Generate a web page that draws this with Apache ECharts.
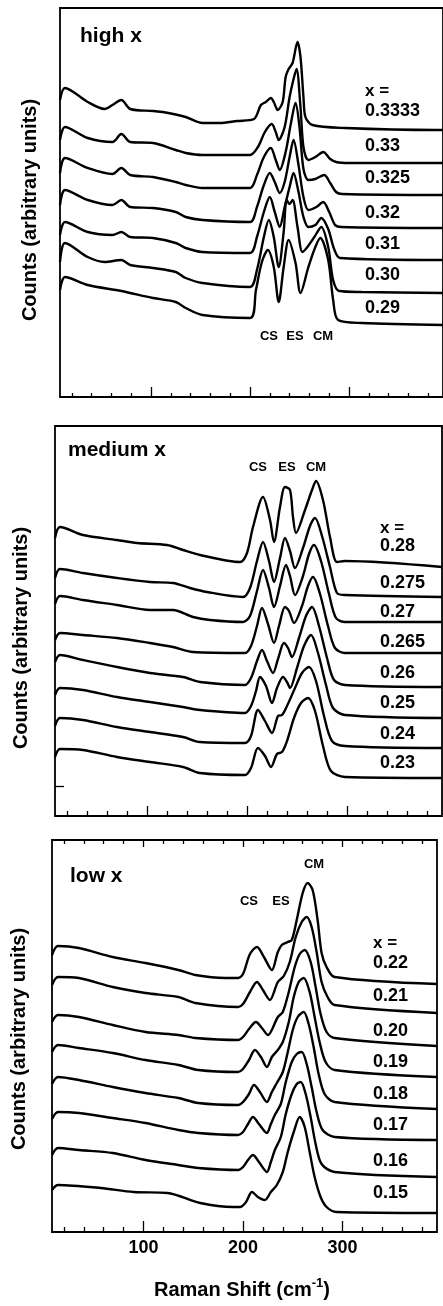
<!DOCTYPE html>
<html>
<head>
<meta charset="utf-8">
<script src="https://cdn.jsdelivr.net/npm/echarts@6/dist/echarts.min.js"></script>
<style>
html,body{margin:0;padding:0;background:#fff;}
#chart{width:443px;height:1306px;}
</style>
</head>
<body>
<div id="chart"></div>
<script>
// ---------------- DATA (Raman shift cm^-1, counts in arbitrary units) ----------------
// high x panel
const hx3333 = [[8,297],[13,309],[36,295],[53,288],[61,292],[70,297],[79,288],[102,286],[112,285],[135,280],[152,274],[169,274],[187,276],[204,278],[211,292],[216,295],[221,299],[224,295],[228,287],[233,295],[236,320],[239,328],[243,334],[248,355],[251,340],[254,300],[256,280],[263,272],[296,269],[388,267],[395,267]];
const hx33 = [[8,257],[13,270],[36,259],[61,255],[70,263],[79,255],[102,254],[125,247],[135,244],[152,242],[200,242],[208,250],[215,265],[222,273],[226,265],[229,257],[235,270],[240,300],[244,318],[247,328],[251,290],[254,250],[259,237],[266,240],[274,245],[281,238],[287,235],[300,234],[395,234]];
const hx325 = [[8,224],[13,239],[36,229],[61,223],[70,229],[79,222],[102,220],[125,215],[135,212],[152,209],[200,209],[207,222],[214,240],[221,249],[226,237],[230,227],[236,245],[241,272],[246,294],[250,270],[254,228],[259,217],[266,218],[275,222],[281,214],[287,205],[293,203],[395,202]];
const hx32 = [[8,192],[13,207],[36,197],[61,192],[70,197],[79,190],[102,189],[125,185],[135,180],[152,177],[200,175],[207,190],[214,212],[220,224],[225,215],[230,204],[235,215],[240,240],[244,257],[249,232],[254,200],[259,187],[267,190],[274,195],[280,185],[286,172],[292,170],[395,169]];
const hx31 = [[8,162],[13,175],[36,165],[61,162],[70,165],[79,160],[102,159],[125,154],[135,149],[152,145],[200,144],[207,160],[214,185],[220,200],[225,185],[230,170],[235,190],[240,210],[244,224],[249,205],[254,180],[259,170],[266,172],[272,179],[279,168],[285,148],[291,139],[395,137]];
const hx30 = [[8,135],[13,154],[36,140],[53,135],[70,137],[79,132],[102,129],[125,125],[135,119],[152,114],[200,110],[207,127],[214,160],[219,177],[224,160],[229,130],[234,165],[237,197],[240,193],[243,197],[248,170],[253,145],[258,150],[265,160],[272,170],[279,150],[284,117],[290,106],[313,105],[395,104]];
const hx29 = [[8,107],[13,120],[36,112],[70,106],[102,99],[125,95],[135,89],[152,82],[200,79],[206,107],[212,135],[218,147],[224,130],[229,95],[234,130],[239,157],[246,134],[251,104],[259,130],[266,150],[271,159],[279,137],[284,97],[289,77],[313,74],[395,72]];
const highLabels = ['0.3333','0.33','0.325','0.32','0.31','0.30','0.29'];

// medium x panel
const mx28 = [[8,278],[13,289],[36,281],[70,276],[90,273],[120,271],[136,266],[153,261],[193,254],[200,263],[206,289],[216,319],[223,296],[227,274],[233,309],[238,329],[243,326],[246,299],[249,283],[258,306],[265,326],[269,335],[276,316],[283,279],[290,254],[298,255],[395,249]];
const mx275 = [[8,238],[13,247],[36,243],[70,238],[103,234],[126,233],[143,228],[160,224],[196,219],[203,228],[210,255],[216,274],[222,255],[227,234],[233,258],[238,278],[243,265],[248,248],[256,268],[263,290],[268,298],[275,280],[283,249],[290,223],[298,221],[395,219]];
const mx27 = [[8,212],[13,220],[36,216],[70,211],[103,206],[126,206],[146,199],[163,196],[196,194],[203,200],[210,225],[216,246],[222,228],[227,209],[233,230],[239,251],[243,240],[248,221],[256,240],[262,262],[267,271],[274,255],[282,222],[289,198],[298,194],[395,194]];
const mx265 = [[8,176],[13,183],[36,181],[70,178],[103,173],[126,169],[146,164],[198,163],[204,170],[210,190],[215,208],[221,192],[227,173],[232,190],[238,209],[242,205],[247,193],[255,210],[261,230],[266,239],[273,222],[281,190],[288,168],[298,163],[395,163]];
const mx26 = [[8,154],[13,161],[36,156],[70,149],[103,143],[136,139],[153,134],[198,131],[204,138],[210,155],[215,166],[220,155],[226,143],[231,157],[237,173],[241,168],[245,159],[252,178],[259,200],[265,209],[272,190],[280,158],[287,136],[298,131],[395,129]];
const mx25 = [[8,121],[13,128],[36,126],[70,119],[103,114],[136,109],[153,106],[198,103],[204,110],[209,125],[213,139],[219,130],[225,113],[230,128],[236,139],[240,134],[243,128],[250,148],[257,170],[264,181],[271,163],[279,131],[286,108],[298,101],[395,98]];
const mx24 = [[8,90],[13,98],[36,96],[70,89],[103,84],[136,79],[153,74],[198,73],[204,80],[211,106],[218,95],[225,83],[231,100],[235,101],[240,110],[248,128],[255,143],[262,149],[269,135],[277,100],[285,75],[298,70],[395,68]];
const mx23 = [[8,59],[13,67],[36,66],[70,59],[103,54],[136,49],[153,43],[198,41],[204,48],[211,68],[218,60],[224,49],[230,62],[235,64],[240,75],[247,98],[254,113],[261,118],[268,105],[276,70],[284,45],[298,39],[395,38]];
const mediumLabels = ['0.28','0.275','0.27','0.265','0.26','0.25','0.24','0.23'];

// low x panel
const lx22 = [[8,277],[14,286],[35,284],[69,275],[102,269],[135,262],[152,257],[182,254],[195,254],[200,258],[207,278],[214,285],[221,275],[229,262],[235,280],[239,287],[245,290],[249,292],[254,312],[260,339],[265,349],[270,342],[275,312],[279,279],[284,265],[292,255],[395,248]];
const lx21 = [[8,247],[14,255],[35,254],[69,245],[102,239],[135,235],[152,229],[195,225],[200,228],[207,240],[214,250],[220,242],[227,232],[235,250],[241,256],[247,270],[253,295],[259,310],[264,315],[269,305],[274,280],[279,250],[285,235],[292,227],[395,219]];
const lx20 = [[8,210],[14,217],[35,215],[69,207],[102,200],[135,197],[152,194],[195,192],[200,195],[206,203],[213,210],[219,204],[225,197],[235,215],[240,220],[246,240],[252,265],[257,278],[262,282],[268,270],[273,245],[278,218],[284,200],[292,194],[395,186]];
const lx19 = [[8,180],[14,187],[35,184],[69,179],[102,172],[135,167],[155,162],[195,160],[200,163],[206,172],[212,182],[218,175],[224,165],[229,175],[235,182],[240,190],[246,210],[251,235],[256,250],[261,254],[267,240],[272,215],[277,190],[283,170],[292,162],[395,155]];
const lx18 = [[8,148],[14,155],[35,152],[69,145],[102,139],[135,134],[155,129],[195,127],[200,130],[206,138],[211,147],[217,140],[224,130],[229,140],[234,149],[240,160],[245,180],[250,202],[255,215],[261,220],[266,208],[271,185],[276,158],[282,138],[292,130],[395,123]];
const lx17 = [[8,113],[14,120],[35,119],[69,114],[102,109],[135,102],[155,99],[195,97],[200,100],[205,108],[210,115],[216,108],[224,99],[228,108],[232,117],[238,128],[243,150],[249,170],[254,178],[259,180],[264,168],[269,145],[274,120],[280,102],[292,95],[395,92]];
const lx16 = [[8,77],[14,84],[35,82],[69,79],[102,72],[135,67],[155,64],[195,62],[200,65],[205,72],[210,77],[216,70],[224,60],[228,70],[232,82],[238,95],[243,118],[249,138],[254,148],[258,150],[263,138],[268,115],[273,88],[279,68],[292,60],[395,55]];
const lx15 = [[8,42],[14,47],[57,44],[90,40],[124,39],[157,29],[190,25],[197,25],[203,30],[209,40],[215,35],[222,32],[228,40],[234,47],[240,60],[245,80],[251,100],[257,115],[262,105],[267,80],[272,55],[278,35],[284,25],[294,20],[395,19]];
const lowLabels = ['0.22','0.21','0.20','0.19','0.18','0.17','0.16','0.15'];

const majorTicks = [100, 200, 300];
const minorTicks = [20,40,60,80,120,140,160,180,220,240,260,280,320,340,360,380];
const panelTitles = ['high x', 'medium x', 'low x'];
const peakNames = ['CS', 'ES', 'CM'];

// ---------------- LAYOUT ----------------
const FONT = '"Liberation Sans", Arial, Helvetica, sans-serif';
const panels = [
  { series: [hx3333,hx33,hx325,hx32,hx31,hx30,hx29], labels: highLabels,
    grid: {left:60, top:8, width:389, height:389}, ymax:389, majorLen:10, minorLen:4,
    title:{x:80, y:36}, labelX:365, eqY:91, labelY:[111,146,178,213,244,275,308],
    peaks:[[269,336],[295,336],[323,336]], yname:{x:30, y:210} },
  { series: [mx28,mx275,mx27,mx265,mx26,mx25,mx24,mx23], labels: mediumLabels,
    grid: {left:55, top:426, width:387, height:390}, ymax:390, majorLen:10, minorLen:5,
    title:{x:68, y:450}, labelX:380, eqY:528, labelY:[546,583,612,642,673,703,734,763],
    peaks:[[258,467],[287,467],[316,467]], yname:{x:21, y:638} },
  { series: [lx22,lx21,lx20,lx19,lx18,lx17,lx16,lx15], labels: lowLabels,
    grid: {left:52, top:840, width:385, height:392}, ymax:392, majorLen:11, minorLen:5,
    title:{x:70, y:876}, labelX:373, eqY:943, labelY:[963,996,1031,1062,1094,1125,1161,1193],
    peaks:[[249,901],[281,901],[314,864]], yname:{x:19, y:1039} }
];

const grids = [], xAxes = [], yAxes = [], series = [], graphics = [];

function tickAxis(gi, values, len, position, extra) {
  return Object.assign({
    type:'value', gridIndex:gi, min:8, max:395, position: position,
    axisLine:{show:false}, splitLine:{show:false},
    axisLabel:{show:false},
    axisTick:{show:true, inside:true, length:len, customValues: values,
              lineStyle:{color:'#000', width:1.3}}
  }, extra || {});
}

panels.forEach((p, gi) => {
  grids.push(Object.assign({show:true, borderColor:'#000', borderWidth:1.8,
                            backgroundColor:'transparent'}, p.grid));
  const baseIdx = xAxes.length;
  xAxes.push(tickAxis(gi, minorTicks, p.minorLen, 'bottom'));
  const major = tickAxis(gi, majorTicks, p.majorLen, 'bottom');
  if (gi === 2) {
    major.axisLabel = {show:true, customValues: majorTicks, color:'#000',
                       fontSize:18, fontWeight:'bold', fontFamily:FONT, margin:7};
  }
  xAxes.push(major);
  if (gi === 2) {
    xAxes.push(tickAxis(gi, minorTicks, 4, 'top'));
    xAxes.push(tickAxis(gi, majorTicks, 7, 'top'));
  }
  const ya = {type:'value', gridIndex:gi, min:0, max:p.ymax,
              axisLine:{show:false}, axisLabel:{show:false}, splitLine:{show:false},
              axisTick:{show:false}};
  if (gi === 1) {
    ya.axisTick = {show:true, inside:true, length:9, customValues:[30],
                   lineStyle:{color:'#000', width:1.3}};
  }
  yAxes.push(ya);

  p.series.forEach((d, si) => {
    series.push({
      type:'line', xAxisIndex: baseIdx, yAxisIndex: gi, data: d,
      name: p.labels[si], showSymbol:false, symbol:'none', smooth:0.3,
      lineStyle:{color:'#000', width:2.4}, silent:true, z: 3
    });
  });

  // titles and labels
  graphics.push({type:'text', x:p.title.x, y:p.title.y,
    style:{text:panelTitles[gi], fill:'#000', fontSize:21, fontWeight:'bold',
           fontFamily:FONT, align:'left', verticalAlign:'middle'}});
  graphics.push({type:'text', x:p.labelX, y:p.eqY,
    style:{text:'x =', fill:'#000', fontSize:17, fontWeight:'bold',
           fontFamily:FONT, align:'left', verticalAlign:'middle'}});
  p.labels.forEach((t, i) => {
    graphics.push({type:'text', x:p.labelX, y:p.labelY[i],
      style:{text:t, fill:'#000', fontSize:18, fontWeight:'bold',
             fontFamily:FONT, align:'left', verticalAlign:'middle'}});
  });
  peakNames.forEach((t, i) => {
    graphics.push({type:'text', x:p.peaks[i][0], y:p.peaks[i][1],
      style:{text:t, fill:'#000', fontSize:13, fontWeight:'bold',
             fontFamily:FONT, align:'center', verticalAlign:'middle'}});
  });
  graphics.push({type:'text', x:p.yname.x, y:p.yname.y, rotation:Math.PI/2,
    style:{text:'Counts (arbitrary units)', fill:'#000', fontSize:20, fontWeight:'bold',
           fontFamily:FONT, align:'center', verticalAlign:'middle'}});
});

graphics.push({type:'text', x:242, y:1290,
  style:{text:'{a|Raman Shift (cm}{b|-1}{a|)}', fill:'#000', align:'center', verticalAlign:'middle',
         rich:{a:{fontSize:20, fontWeight:'bold', fontFamily:FONT, fill:'#000', lineHeight:26},
               b:{fontSize:13, fontWeight:'bold', fontFamily:FONT, fill:'#000', verticalAlign:'top'}}}});

const chart = echarts.init(document.getElementById('chart'), null, {renderer:'canvas'});
chart.setOption({
  animation:false,
  backgroundColor:'#fff',
  grid: grids, xAxis: xAxes, yAxis: yAxes, series: series,
  graphic: graphics
});
</script>
</body>
</html>
